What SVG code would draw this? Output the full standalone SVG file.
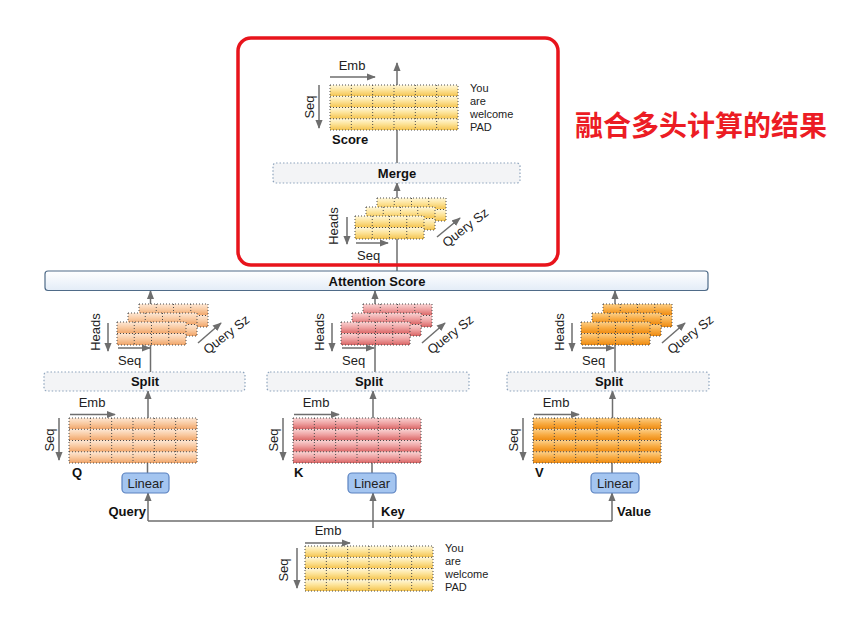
<svg xmlns="http://www.w3.org/2000/svg" xmlns:xlink="http://www.w3.org/1999/xlink" width="863" height="631" viewBox="0 0 863 631">
<defs>
<style>
text{font-family:"Liberation Sans",Arial,sans-serif;font-size:13px;fill:#222}
.b{font-weight:bold;fill:#111}
.lab{font-size:11px}
.m{text-anchor:middle}
.arr{stroke:#6e6e6e;stroke-width:1.5;fill:none;marker-end:url(#ah)}
.ln{stroke:#6e6e6e;stroke-width:1.5;fill:none}
.grid{fill:none;stroke:#4a4a4a;stroke-width:1;stroke-dasharray:1 2}
.op{fill:#f3f4f6;stroke:#8ea4bd;stroke-width:1.2;stroke-dasharray:1.5 2}
.lin{fill:#a4c5f0;stroke:#5b82c0;stroke-width:1.2}
.cjk{font-family:"Noto Sans CJK SC",sans-serif;font-weight:bold;font-size:28px;fill:#ec1c24}
</style>
<marker id="ah" viewBox="0 0 10 10" refX="9" refY="5" markerWidth="9" markerHeight="9" markerUnits="userSpaceOnUse" orient="auto"><path d="M0,1 L10,5 L0,9 z" fill="#6e6e6e"/></marker>
<linearGradient id="gY" x1="0" y1="0" x2="0" y2="1"><stop offset="0" stop-color="#fff8dc"/><stop offset="0.45" stop-color="#fde49a"/><stop offset="1" stop-color="#f4c34e"/></linearGradient>
<linearGradient id="gQ" x1="0" y1="0" x2="0" y2="1"><stop offset="0" stop-color="#fde8d6"/><stop offset="0.5" stop-color="#f9c9a0"/><stop offset="1" stop-color="#f0a468"/></linearGradient>
<linearGradient id="gK" x1="0" y1="0" x2="0" y2="1"><stop offset="0" stop-color="#f9d4d4"/><stop offset="0.5" stop-color="#eea0a0"/><stop offset="1" stop-color="#d96464"/></linearGradient>
<linearGradient id="gV" x1="0" y1="0" x2="0" y2="1"><stop offset="0" stop-color="#fcd08a"/><stop offset="0.5" stop-color="#f8ab42"/><stop offset="1" stop-color="#ee8a10"/></linearGradient>
<linearGradient id="gA" x1="0" y1="0" x2="0" y2="1"><stop offset="0" stop-color="#ffffff"/><stop offset="1" stop-color="#e3ecf7"/></linearGradient>
<g id="m6">
<rect x="0" y="0" width="128" height="11.25"/>
<rect x="0" y="11.25" width="128" height="11.25"/>
<rect x="0" y="22.5" width="128" height="11.25"/>
<rect x="0" y="33.75" width="128" height="11.25"/>
<path class="grid" d="M21.33 0V45M42.67 0V45M64 0V45M85.33 0V45M106.67 0V45M0 11.25H128M0 22.5H128M0 33.75H128"/>
<rect class="grid" x="0" y="0" width="128" height="45"/>
</g>
<g id="m4">
<rect x="0" y="0" width="69" height="11.5"/>
<rect x="0" y="11.5" width="69" height="11.5"/>
<path class="grid" d="M17.25 0V23M34.5 0V23M51.75 0V23M0 11.5H69"/>
<rect class="grid" x="0" y="0" width="69" height="23"/>
</g>
<g id="stk"><use href="#m4" x="22" y="-18"/><use href="#m4" x="11" y="-9"/><use href="#m4"/></g>
</defs>
<rect width="863" height="631" fill="#ffffff"/>

<g id="connectors">
<path class="ln" d="M148 521H612"/>
<path class="arr" d="M148 521V493"/>
<path class="arr" d="M612 521V493"/>
<path class="arr" d="M373 528V493"/>
<path class="ln" d="M147.5 473V463M372 473V463M612 473V463"/>
<path class="arr" d="M148 418V391"/>
<path class="arr" d="M373 418V391"/>
<path class="arr" d="M612.5 418V391"/>
<path class="arr" d="M150.5 372V291"/>
<path class="arr" d="M375 372V291"/>
<path class="arr" d="M615 372V291"/>
<path class="arr" d="M397 271V183"/>
<path class="arr" d="M397 163V63"/>
</g>

<g id="highlight">
<rect x="238" y="38" width="320" height="227" rx="13" fill="none" stroke="#e8141c" stroke-width="3.5"/>
<text class="cjk" x="575" y="136">融合多头计算的结果</text>
</g>

<g id="input">
<use href="#m6" x="305" y="546" fill="url(#gY)"/>
<path class="arr" d="M305 543H350"/>
<text class="m" x="328" y="535">Emb</text>
<path class="arr" d="M297 548V588"/>
<text class="m" transform="translate(288,570) rotate(-90)">Seq</text>
<text class="lab" x="445" y="552">You</text>
<text class="lab" x="445" y="565">are</text>
<text class="lab" x="445" y="578">welcome</text>
<text class="lab" x="445" y="591">PAD</text>
</g>

<g id="labels-in">
<text class="b" x="146" y="516" text-anchor="end">Query</text>
<text class="b" x="381" y="516">Key</text>
<text class="b" x="617" y="516">Value</text>
</g>

<g id="linear-q"><rect class="lin" x="122" y="473" width="47" height="20" rx="4"/><text class="m" x="145.5" y="488">Linear</text></g>
<g id="linear-k"><rect class="lin" x="348" y="473" width="48" height="20" rx="4"/><text class="m" x="372" y="488">Linear</text></g>
<g id="linear-v"><rect class="lin" x="591" y="473" width="48" height="20" rx="4"/><text class="m" x="615" y="488">Linear</text></g>

<g id="mat-q">
<use href="#m6" x="69" y="418" fill="url(#gQ)"/>
<path class="arr" d="M70 414.5H115"/>
<text class="m" x="92" y="407">Emb</text>
<path class="arr" d="M59 418V460"/>
<text class="m" transform="translate(54,440) rotate(-90)">Seq</text>
<text class="b" x="72" y="477">Q</text>
</g>
<g id="mat-k">
<use href="#m6" x="293" y="418" fill="url(#gK)"/>
<path class="arr" d="M294 414.5H339"/>
<text class="m" x="316" y="407">Emb</text>
<path class="arr" d="M283 418V460"/>
<text class="m" transform="translate(278,440) rotate(-90)">Seq</text>
<text class="b" x="294" y="477">K</text>
</g>
<g id="mat-v">
<use href="#m6" x="533" y="418" fill="url(#gV)"/>
<path class="arr" d="M534 414.5H579"/>
<text class="m" x="556" y="407">Emb</text>
<path class="arr" d="M523 418V460"/>
<text class="m" transform="translate(518,440) rotate(-90)">Seq</text>
<text class="b" x="535" y="477">V</text>
</g>

<g id="split-q"><rect class="op" x="44" y="372" width="201" height="19" rx="3"/><text class="b m" x="145" y="386">Split</text></g>
<g id="split-k"><rect class="op" x="267" y="372" width="202" height="19" rx="3"/><text class="b m" x="369" y="386">Split</text></g>
<g id="split-v"><rect class="op" x="507" y="372" width="202" height="19" rx="3"/><text class="b m" x="609" y="386">Split</text></g>

<g id="heads-q">
<use href="#stk" x="117" y="322" fill="url(#gQ)"/>
<path class="arr" d="M108 323V351"/>
<text class="m" transform="translate(100,332) rotate(-90)">Heads</text>
<path class="arr" d="M118 348H150"/>
<text x="118" y="365">Seq</text>
<path class="arr" d="M198 343L221 323"/>
<text class="m" transform="translate(229,338) rotate(-38)">Query Sz</text>
</g>
<g id="heads-k">
<use href="#stk" x="341" y="322" fill="url(#gK)"/>
<path class="arr" d="M332 323V351"/>
<text class="m" transform="translate(324,332) rotate(-90)">Heads</text>
<path class="arr" d="M342 348H374"/>
<text x="342" y="365">Seq</text>
<path class="arr" d="M422 343L445 323"/>
<text class="m" transform="translate(453,338) rotate(-38)">Query Sz</text>
</g>
<g id="heads-v">
<use href="#stk" x="581" y="322" fill="url(#gV)"/>
<path class="arr" d="M572 323V351"/>
<text class="m" transform="translate(564,332) rotate(-90)">Heads</text>
<path class="arr" d="M582 348H614"/>
<text x="582" y="365">Seq</text>
<path class="arr" d="M662 343L685 323"/>
<text class="m" transform="translate(693,338) rotate(-38)">Query Sz</text>
</g>

<g id="attention">
<rect x="45" y="271" width="663" height="19.5" rx="3" fill="url(#gA)" stroke="#4f6b88" stroke-width="1.2"/>
<text class="b m" x="377" y="285.5">Attention Score</text>
</g>

<g id="heads-score">
<use href="#stk" x="355" y="216" fill="url(#gY)"/>
<path class="arr" d="M347 217V244"/>
<text class="m" transform="translate(338,226) rotate(-90)">Heads</text>
<path class="arr" d="M356 243H388"/>
<text x="357" y="260">Seq</text>
<path class="arr" d="M437 237L460 218"/>
<text class="m" transform="translate(468,231) rotate(-38)">Query Sz</text>
</g>

<g id="merge"><rect class="op" x="273" y="163" width="247" height="20" rx="3"/><text class="b m" x="397" y="177.5">Merge</text></g>

<g id="score">
<use href="#m6" x="330" y="85" fill="url(#gY)"/>
<path class="arr" d="M330 77H375"/>
<text class="m" x="352" y="70">Emb</text>
<path class="arr" d="M319 85V128"/>
<text class="m" transform="translate(314,107) rotate(-90)">Seq</text>
<text class="b" x="332" y="144">Score</text>
<text class="lab" x="470" y="92">You</text>
<text class="lab" x="470" y="105">are</text>
<text class="lab" x="470" y="118">welcome</text>
<text class="lab" x="470" y="131">PAD</text>
</g>
</svg>
